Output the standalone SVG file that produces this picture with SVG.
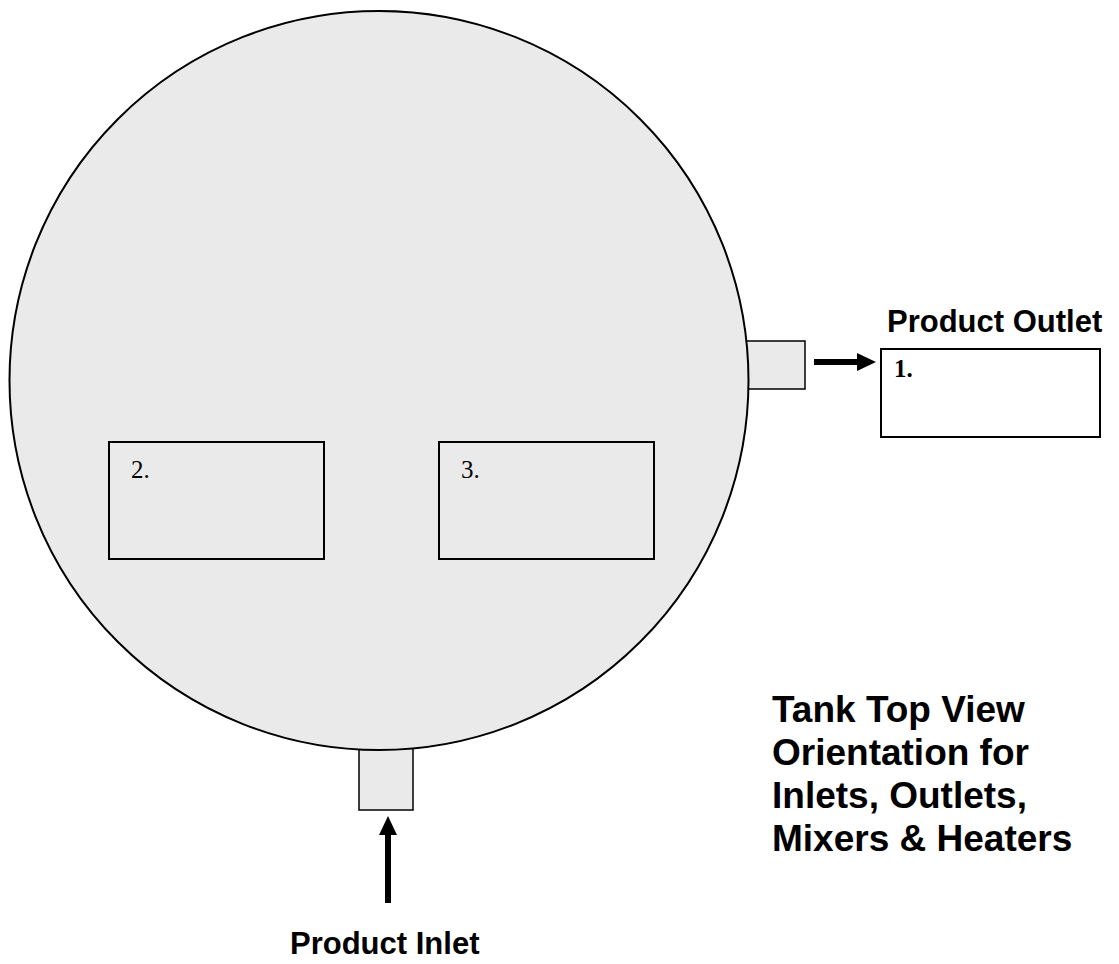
<svg xmlns="http://www.w3.org/2000/svg" width="1119" height="964" viewBox="0 0 1119 964">
<style>
.tank{fill:#eaeaea;stroke:#000;stroke-width:2}
.stub{fill:#eaeaea;stroke:#000;stroke-width:1.5}
.box{fill:#eaeaea;stroke:#000;stroke-width:2}
.lbl{font-family:"Liberation Sans",Arial,sans-serif;font-weight:bold;fill:#000}
.num{font-family:"Liberation Serif","Times New Roman",serif;fill:#000}
.arrow{fill:#000}
</style>
<rect width="1119" height="964" fill="#fff"/>
<g id="outlet-stub"><rect class="stub" x="740" y="341" width="65" height="48"/></g>
<g id="inlet-stub"><rect class="stub" x="359" y="740" width="54" height="70"/></g>
<g id="tank"><circle class="tank" cx="379" cy="380.5" r="369.5"/></g>
<g id="box2"><rect class="box" x="109" y="442" width="215" height="117"/><text class="num" x="131" y="478" font-size="25">2.</text></g>
<g id="box3"><rect class="box" x="439" y="442" width="215" height="117"/><text class="num" x="461" y="478" font-size="25">3.</text></g>
<g id="box1"><rect x="881" y="349" width="219" height="88" fill="#fff" stroke="#000" stroke-width="2"/><text class="num" x="894" y="377" font-size="25" font-weight="bold">1.</text></g>
<g id="outlet-label"><text class="lbl" x="887" y="332" font-size="31">Product Outlet</text></g>
<g id="inlet-label"><text class="lbl" x="290" y="954" font-size="31">Product Inlet</text></g>
<g id="title"><text class="lbl" font-size="37">
<tspan x="772" y="722">Tank Top View</tspan>
<tspan x="772" y="765">Orientation for</tspan>
<tspan x="772" y="808">Inlets, Outlets,</tspan>
<tspan x="772" y="851">Mixers &amp; Heaters</tspan>
</text></g>
<g id="connectors">
<rect class="arrow" x="814" y="359" width="44" height="6"/>
<polygon class="arrow" points="857,353 876,362 857,371"/>
<rect class="arrow" x="385" y="834" width="6" height="69"/>
<polygon class="arrow" points="379,835 388,816 397,835"/>
</g>
</svg>
